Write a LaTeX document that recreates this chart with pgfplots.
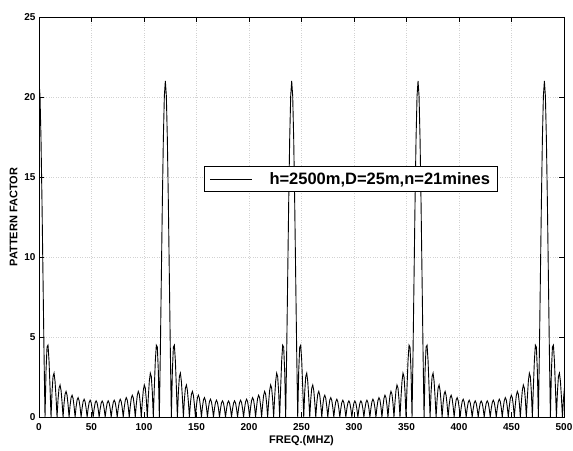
\documentclass[border=0pt]{standalone}
\usepackage{fontspec}
\setmainfont{Liberation Sans}
\usepackage{pgfplots}
\pgfplotsset{compat=1.18}
\usetikzlibrary{calc}
\begin{document}
\begin{tikzpicture}
\begin{axis}[name=ax, scale only axis, width=525pt, height=400pt,
 xmin=0, xmax=500, ymin=0, ymax=25,
 xtick={0,50,...,500}, ytick={0,5,...,25},
 tick align=inside, major tick length=5pt,
 grid=major, major grid style={dotted, gray!35, line width=0.5pt},
 axis line style={line width=0.8pt},
 every tick/.style={black, line width=0.6pt},
 tick label style={font=\fontsize{10}{12}\selectfont\bfseries},
 /pgf/number format/assume math mode=true,
 xticklabel style={yshift=-3pt},
 xlabel={FREQ.(MHZ)}, ylabel={PATTERN FACTOR},
 label style={font=\fontsize{11}{13}\selectfont\bfseries},
 xlabel style={yshift=2pt},
 legend style={at={(0.594,0.595)}, anchor=center, draw=black, line width=0.7pt, fill=white,
   font=\fontsize{16.5}{19}\selectfont\bfseries, inner xsep=5pt, inner ysep=3.5pt},
 legend cell align=left,
 legend image code/.code={\draw[#1] (0pt,0pt) -- (42pt,0pt);},
]
\addplot[black, line width=0.9pt] table[row sep=\\] {
f v\\
0 21.00\\ 0.955 20.06\\ 1.91 17.37\\ 2.865 13.38\\ 3.82 8.70\\ 4.775 4.02\\ 5.73 0\\ 6.685 2.88\\ 7.64 4.37\\ 8.595 4.49\\
9.55 3.51\\ 10.505 1.85\\ 11.46 0\\ 12.415 1.57\\ 13.37 2.53\\ 14.325 2.74\\ 15.28 2.23\\ 16.235 1.22\\ 17.19 0\\ 18.145 1.10\\
19.1 1.81\\ 20.055 2.00\\ 21.01 1.66\\ 21.965 0.92\\ 22.92 0\\ 23.875 0.86\\ 24.83 1.43\\ 25.785 1.60\\ 26.74 1.35\\ 27.695 0.76\\
28.65 0\\ 29.605 0.72\\ 30.56 1.21\\ 31.515 1.36\\ 32.47 1.16\\ 33.425 0.65\\ 34.38 0\\ 35.335 0.63\\ 36.29 1.07\\ 37.245 1.21\\
38.2 1.03\\ 39.155 0.59\\ 40.11 0\\ 41.065 0.57\\ 42.02 0.97\\ 42.975 1.11\\ 43.93 0.95\\ 44.885 0.54\\ 45.84 0\\ 46.795 0.53\\
47.75 0.91\\ 48.705 1.05\\ 49.66 0.90\\ 50.615 0.52\\ 51.57 0\\ 52.525 0.51\\ 53.48 0.88\\ 54.435 1.01\\ 55.39 0.87\\ 56.345 0.50\\
57.3 0\\ 58.255 0.50\\ 59.21 0.87\\ 60.165 1.00\\ 61.12 0.87\\ 62.075 0.50\\ 63.03 0\\ 63.985 0.50\\ 64.94 0.87\\ 65.895 1.01\\
66.85 0.88\\ 67.805 0.51\\ 68.76 0\\ 69.715 0.52\\ 70.67 0.90\\ 71.625 1.05\\ 72.58 0.91\\ 73.535 0.53\\ 74.49 0\\ 75.445 0.54\\
76.4 0.95\\ 77.355 1.11\\ 78.31 0.97\\ 79.265 0.57\\ 80.22 0\\ 81.175 0.59\\ 82.13 1.03\\ 83.085 1.21\\ 84.04 1.07\\ 84.995 0.63\\
85.95 0\\ 86.905 0.65\\ 87.86 1.16\\ 88.815 1.36\\ 89.77 1.21\\ 90.725 0.72\\ 91.68 0\\ 92.635 0.76\\ 93.59 1.35\\ 94.545 1.60\\
95.5 1.43\\ 96.455 0.86\\ 97.41 0\\ 98.365 0.92\\ 99.32 1.66\\ 100.275 2.00\\ 101.23 1.81\\ 102.185 1.10\\ 103.14 0\\ 104.095 1.22\\
105.05 2.23\\ 106.005 2.74\\ 106.96 2.53\\ 107.915 1.57\\ 108.87 0\\ 109.825 1.85\\ 110.78 3.51\\ 111.735 4.49\\ 112.69 4.37\\ 113.645 2.88\\
114.6 0\\ 115.555 4.02\\ 116.51 8.70\\ 117.465 13.38\\ 118.42 17.37\\ 119.375 20.06\\ 120.33 21.00\\ 121.285 20.06\\ 122.24 17.37\\ 123.195 13.38\\
124.15 8.70\\ 125.105 4.02\\ 126.06 0\\ 127.015 2.88\\ 127.97 4.37\\ 128.925 4.49\\ 129.88 3.51\\ 130.835 1.85\\ 131.79 0\\ 132.745 1.57\\
133.7 2.53\\ 134.655 2.74\\ 135.61 2.23\\ 136.565 1.22\\ 137.52 0\\ 138.475 1.10\\ 139.43 1.81\\ 140.385 2.00\\ 141.34 1.66\\ 142.295 0.92\\
143.25 0\\ 144.205 0.86\\ 145.16 1.43\\ 146.115 1.60\\ 147.07 1.35\\ 148.025 0.76\\ 148.98 0\\ 149.935 0.72\\ 150.89 1.21\\ 151.845 1.36\\
152.8 1.16\\ 153.755 0.65\\ 154.71 0\\ 155.665 0.63\\ 156.62 1.07\\ 157.575 1.21\\ 158.53 1.03\\ 159.485 0.59\\ 160.44 0\\ 161.395 0.57\\
162.35 0.97\\ 163.305 1.11\\ 164.26 0.95\\ 165.215 0.54\\ 166.17 0\\ 167.125 0.53\\ 168.08 0.91\\ 169.035 1.05\\ 169.99 0.90\\ 170.945 0.52\\
171.9 0\\ 172.855 0.51\\ 173.81 0.88\\ 174.765 1.01\\ 175.72 0.87\\ 176.675 0.50\\ 177.63 0\\ 178.585 0.50\\ 179.54 0.87\\ 180.495 1.00\\
181.45 0.87\\ 182.405 0.50\\ 183.36 0\\ 184.315 0.50\\ 185.27 0.87\\ 186.225 1.01\\ 187.18 0.88\\ 188.135 0.51\\ 189.09 0\\ 190.045 0.52\\
191 0.90\\ 191.955 1.05\\ 192.91 0.91\\ 193.865 0.53\\ 194.82 0\\ 195.775 0.54\\ 196.73 0.95\\ 197.685 1.11\\ 198.64 0.97\\ 199.595 0.57\\
200.55 0\\ 201.505 0.59\\ 202.46 1.03\\ 203.415 1.21\\ 204.37 1.07\\ 205.325 0.63\\ 206.28 0\\ 207.235 0.65\\ 208.19 1.16\\ 209.145 1.36\\
210.1 1.21\\ 211.055 0.72\\ 212.01 0\\ 212.965 0.76\\ 213.92 1.35\\ 214.875 1.60\\ 215.83 1.43\\ 216.785 0.86\\ 217.74 0\\ 218.695 0.92\\
219.65 1.66\\ 220.605 2.00\\ 221.56 1.81\\ 222.515 1.10\\ 223.47 0\\ 224.425 1.22\\ 225.38 2.23\\ 226.335 2.74\\ 227.29 2.53\\ 228.245 1.57\\
229.2 0\\ 230.155 1.85\\ 231.11 3.51\\ 232.065 4.49\\ 233.02 4.37\\ 233.975 2.88\\ 234.93 0\\ 235.885 4.02\\ 236.84 8.70\\ 237.795 13.38\\
238.75 17.37\\ 239.705 20.06\\ 240.66 21.00\\ 241.615 20.06\\ 242.57 17.37\\ 243.525 13.38\\ 244.48 8.70\\ 245.435 4.02\\ 246.39 0\\ 247.345 2.88\\
248.3 4.37\\ 249.255 4.49\\ 250.21 3.51\\ 251.165 1.85\\ 252.12 0\\ 253.075 1.57\\ 254.03 2.53\\ 254.985 2.74\\ 255.94 2.23\\ 256.895 1.22\\
257.85 0\\ 258.805 1.10\\ 259.76 1.81\\ 260.715 2.00\\ 261.67 1.66\\ 262.625 0.92\\ 263.58 0\\ 264.535 0.86\\ 265.49 1.43\\ 266.445 1.60\\
267.4 1.35\\ 268.355 0.76\\ 269.31 0\\ 270.265 0.72\\ 271.22 1.21\\ 272.175 1.36\\ 273.13 1.16\\ 274.085 0.65\\ 275.04 0\\ 275.995 0.63\\
276.95 1.07\\ 277.905 1.21\\ 278.86 1.03\\ 279.815 0.59\\ 280.77 0\\ 281.725 0.57\\ 282.68 0.97\\ 283.635 1.11\\ 284.59 0.95\\ 285.545 0.54\\
286.5 0\\ 287.455 0.53\\ 288.41 0.91\\ 289.365 1.05\\ 290.32 0.90\\ 291.275 0.52\\ 292.23 0\\ 293.185 0.51\\ 294.14 0.88\\ 295.095 1.01\\
296.05 0.87\\ 297.005 0.50\\ 297.96 0\\ 298.915 0.50\\ 299.87 0.87\\ 300.825 1.00\\ 301.78 0.87\\ 302.735 0.50\\ 303.69 0\\ 304.645 0.50\\
305.6 0.87\\ 306.555 1.01\\ 307.51 0.88\\ 308.465 0.51\\ 309.42 0\\ 310.375 0.52\\ 311.33 0.90\\ 312.285 1.05\\ 313.24 0.91\\ 314.195 0.53\\
315.15 0\\ 316.105 0.54\\ 317.06 0.95\\ 318.015 1.11\\ 318.97 0.97\\ 319.925 0.57\\ 320.88 0\\ 321.835 0.59\\ 322.79 1.03\\ 323.745 1.21\\
324.7 1.07\\ 325.655 0.63\\ 326.61 0\\ 327.565 0.65\\ 328.52 1.16\\ 329.475 1.36\\ 330.43 1.21\\ 331.385 0.72\\ 332.34 0\\ 333.295 0.76\\
334.25 1.35\\ 335.205 1.60\\ 336.16 1.43\\ 337.115 0.86\\ 338.07 0\\ 339.025 0.92\\ 339.98 1.66\\ 340.935 2.00\\ 341.89 1.81\\ 342.845 1.10\\
343.8 0\\ 344.755 1.22\\ 345.71 2.23\\ 346.665 2.74\\ 347.62 2.53\\ 348.575 1.57\\ 349.53 0\\ 350.485 1.85\\ 351.44 3.51\\ 352.395 4.49\\
353.35 4.37\\ 354.305 2.88\\ 355.26 0\\ 356.215 4.02\\ 357.17 8.70\\ 358.125 13.38\\ 359.08 17.37\\ 360.035 20.06\\ 360.99 21.00\\ 361.945 20.06\\
362.9 17.37\\ 363.855 13.38\\ 364.81 8.70\\ 365.765 4.02\\ 366.72 0\\ 367.675 2.88\\ 368.63 4.37\\ 369.585 4.49\\ 370.54 3.51\\ 371.495 1.85\\
372.45 0\\ 373.405 1.57\\ 374.36 2.53\\ 375.315 2.74\\ 376.27 2.23\\ 377.225 1.22\\ 378.18 0\\ 379.135 1.10\\ 380.09 1.81\\ 381.045 2.00\\
382 1.66\\ 382.955 0.92\\ 383.91 0\\ 384.865 0.86\\ 385.82 1.43\\ 386.775 1.60\\ 387.73 1.35\\ 388.685 0.76\\ 389.64 0\\ 390.595 0.72\\
391.55 1.21\\ 392.505 1.36\\ 393.46 1.16\\ 394.415 0.65\\ 395.37 0\\ 396.325 0.63\\ 397.28 1.07\\ 398.235 1.21\\ 399.19 1.03\\ 400.145 0.59\\
401.1 0\\ 402.055 0.57\\ 403.01 0.97\\ 403.965 1.11\\ 404.92 0.95\\ 405.875 0.54\\ 406.83 0\\ 407.785 0.53\\ 408.74 0.91\\ 409.695 1.05\\
410.65 0.90\\ 411.605 0.52\\ 412.56 0\\ 413.515 0.51\\ 414.47 0.88\\ 415.425 1.01\\ 416.38 0.87\\ 417.335 0.50\\ 418.29 0\\ 419.245 0.50\\
420.2 0.87\\ 421.155 1.00\\ 422.11 0.87\\ 423.065 0.50\\ 424.02 0\\ 424.975 0.50\\ 425.93 0.87\\ 426.885 1.01\\ 427.84 0.88\\ 428.795 0.51\\
429.75 0\\ 430.705 0.52\\ 431.66 0.90\\ 432.615 1.05\\ 433.57 0.91\\ 434.525 0.53\\ 435.48 0\\ 436.435 0.54\\ 437.39 0.95\\ 438.345 1.11\\
439.3 0.97\\ 440.255 0.57\\ 441.21 0\\ 442.165 0.59\\ 443.12 1.03\\ 444.075 1.21\\ 445.03 1.07\\ 445.985 0.63\\ 446.94 0\\ 447.895 0.65\\
448.85 1.16\\ 449.805 1.36\\ 450.76 1.21\\ 451.715 0.72\\ 452.67 0\\ 453.625 0.76\\ 454.58 1.35\\ 455.535 1.60\\ 456.49 1.43\\ 457.445 0.86\\
458.4 0\\ 459.355 0.92\\ 460.31 1.66\\ 461.265 2.00\\ 462.22 1.81\\ 463.175 1.10\\ 464.13 0\\ 465.085 1.22\\ 466.04 2.23\\ 466.995 2.74\\
467.95 2.53\\ 468.905 1.57\\ 469.86 0\\ 470.815 1.85\\ 471.77 3.51\\ 472.725 4.49\\ 473.68 4.37\\ 474.635 2.88\\ 475.59 0\\ 476.545 4.02\\
477.5 8.70\\ 478.455 13.38\\ 479.41 17.37\\ 480.365 20.06\\ 481.32 21.00\\ 482.275 20.06\\ 483.23 17.37\\ 484.185 13.38\\ 485.14 8.70\\ 486.095 4.02\\
487.05 0\\ 488.005 2.88\\ 488.96 4.37\\ 489.915 4.49\\ 490.87 3.51\\ 491.825 1.85\\ 492.78 0\\ 493.735 1.57\\ 494.69 2.53\\ 495.645 2.74\\
496.6 2.23\\ 497.555 1.22\\ 498.51 0\\ 499.465 1.10\\ 500.42 1.81\\
};
\addlegendentry{\hspace*{15pt}h=2500m,D=25m,n=21mines}
\end{axis}
\pgfresetboundingbox
\path ($(ax.south west)+(-39pt,-33pt)$) rectangle ($(ax.north east)+(9pt,17pt)$);
\end{tikzpicture}
\end{document}
